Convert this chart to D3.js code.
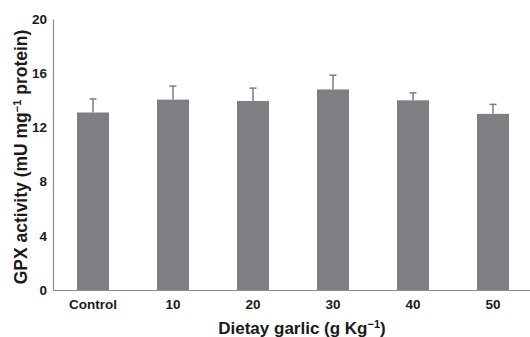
<!DOCTYPE html>
<html>
<head>
<meta charset="utf-8">
<script src="https://cdn.jsdelivr.net/npm/d3@7"></script>
<style>
  body { margin: 0; background: #fff; }
  text { font-family: "Liberation Sans", Arial, sans-serif; font-weight: bold; fill: #1a1a1a; }
</style>
</head>
<body>
<div class="svgContainer"></div>
<script>
const categories = ['Control', '10', '20', '30', '40', '50'];
const gpxValues = [13.1, 14.05, 13.95, 14.8, 14.0, 13.0];
const gpxErrors = [1.0, 1.0, 0.95, 1.05, 0.55, 0.7];
const yTicks = [0, 4, 8, 12, 16, 20];

const width = 530;
const height = 337;
const margin = {left: 53, right: -3, top: 19, bottom: 47};

const svg = d3.select('.svgContainer').append('svg')
  .attr('width', width)
  .attr('height', height);

const scaleX = d3.scaleBand()
  .domain(categories)
  .range([margin.left, width - margin.right])
  .paddingInner(0.6)
  .paddingOuter(0.3);

const scaleY = d3.scaleLinear()
  .domain([0, 20])
  .range([height - margin.bottom, margin.top]);

const data = categories.map((c, i) => ({cat: c, v: gpxValues[i], e: gpxErrors[i]}));

// error bars first, bars drawn over the lower half
const err = svg.append('g').attr('class', 'errors');
err.selectAll('line.stem')
  .data(data)
  .enter()
  .append('line')
  .attr('x1', d => scaleX(d.cat) + scaleX.bandwidth() / 2)
  .attr('x2', d => scaleX(d.cat) + scaleX.bandwidth() / 2)
  .attr('y1', d => scaleY(d.v))
  .attr('y2', d => scaleY(d.v + d.e))
  .attr('stroke', '#7d7d80')
  .attr('stroke-width', 1.5);
err.selectAll('line.cap')
  .data(data)
  .enter()
  .append('line')
  .attr('x1', d => scaleX(d.cat) + scaleX.bandwidth() / 2 - 3.5)
  .attr('x2', d => scaleX(d.cat) + scaleX.bandwidth() / 2 + 3.5)
  .attr('y1', d => scaleY(d.v + d.e))
  .attr('y2', d => scaleY(d.v + d.e))
  .attr('stroke', '#7d7d80')
  .attr('stroke-width', 1.5);

svg.append('g')
  .attr('class', 'bars')
  .selectAll('rect.bar')
  .data(data)
  .enter()
  .append('rect')
  .attr('class', 'bar')
  .attr('x', d => scaleX(d.cat))
  .attr('y', d => scaleY(d.v))
  .attr('width', scaleX.bandwidth())
  .attr('height', d => scaleY(0) - scaleY(d.v))
  .attr('fill', '#7f7f83');

const xAxis = d3.axisBottom(scaleX).tickSize(0).tickPadding(9);
const yAxis = d3.axisLeft(scaleY).tickValues(yTicks).tickSize(0).tickPadding(6);

const gx = svg.append('g')
  .attr('class', 'x-axis')
  .attr('transform', 'translate(0,' + (height - margin.bottom) + ')')
  .call(xAxis);
gx.select('.domain').attr('stroke', '#8a8a8a').attr('stroke-width', 1.2);
gx.selectAll('text').style('font-size', '13.5px').attr('fill', '#1a1a1a');

const gy = svg.append('g')
  .attr('class', 'y-axis')
  .attr('transform', 'translate(' + margin.left + ',0)')
  .call(yAxis);
gy.select('.domain').attr('stroke', '#8a8a8a').attr('stroke-width', 1.2);
gy.selectAll('text').style('font-size', '13.5px').attr('fill', '#1a1a1a');

// axis titles
const yl = svg.append('text')
  .attr('transform', 'translate(27,157) rotate(-90)')
  .attr('text-anchor', 'middle')
  .style('font-size', '17.5px');
yl.append('tspan').text('GPX activity (mU mg');
yl.append('tspan').text('\u22121').attr('baseline-shift', 'super').style('font-size', '11px');
yl.append('tspan').text(' protein)');

const xl = svg.append('text')
  .attr('x', 302)
  .attr('y', 334)
  .attr('text-anchor', 'middle')
  .style('font-size', '17px');
xl.append('tspan').text('Dietay garlic (g Kg');
xl.append('tspan').text('\u22121').attr('baseline-shift', 'super').style('font-size', '11px');
xl.append('tspan').text(')');
</script>
</body>
</html>
